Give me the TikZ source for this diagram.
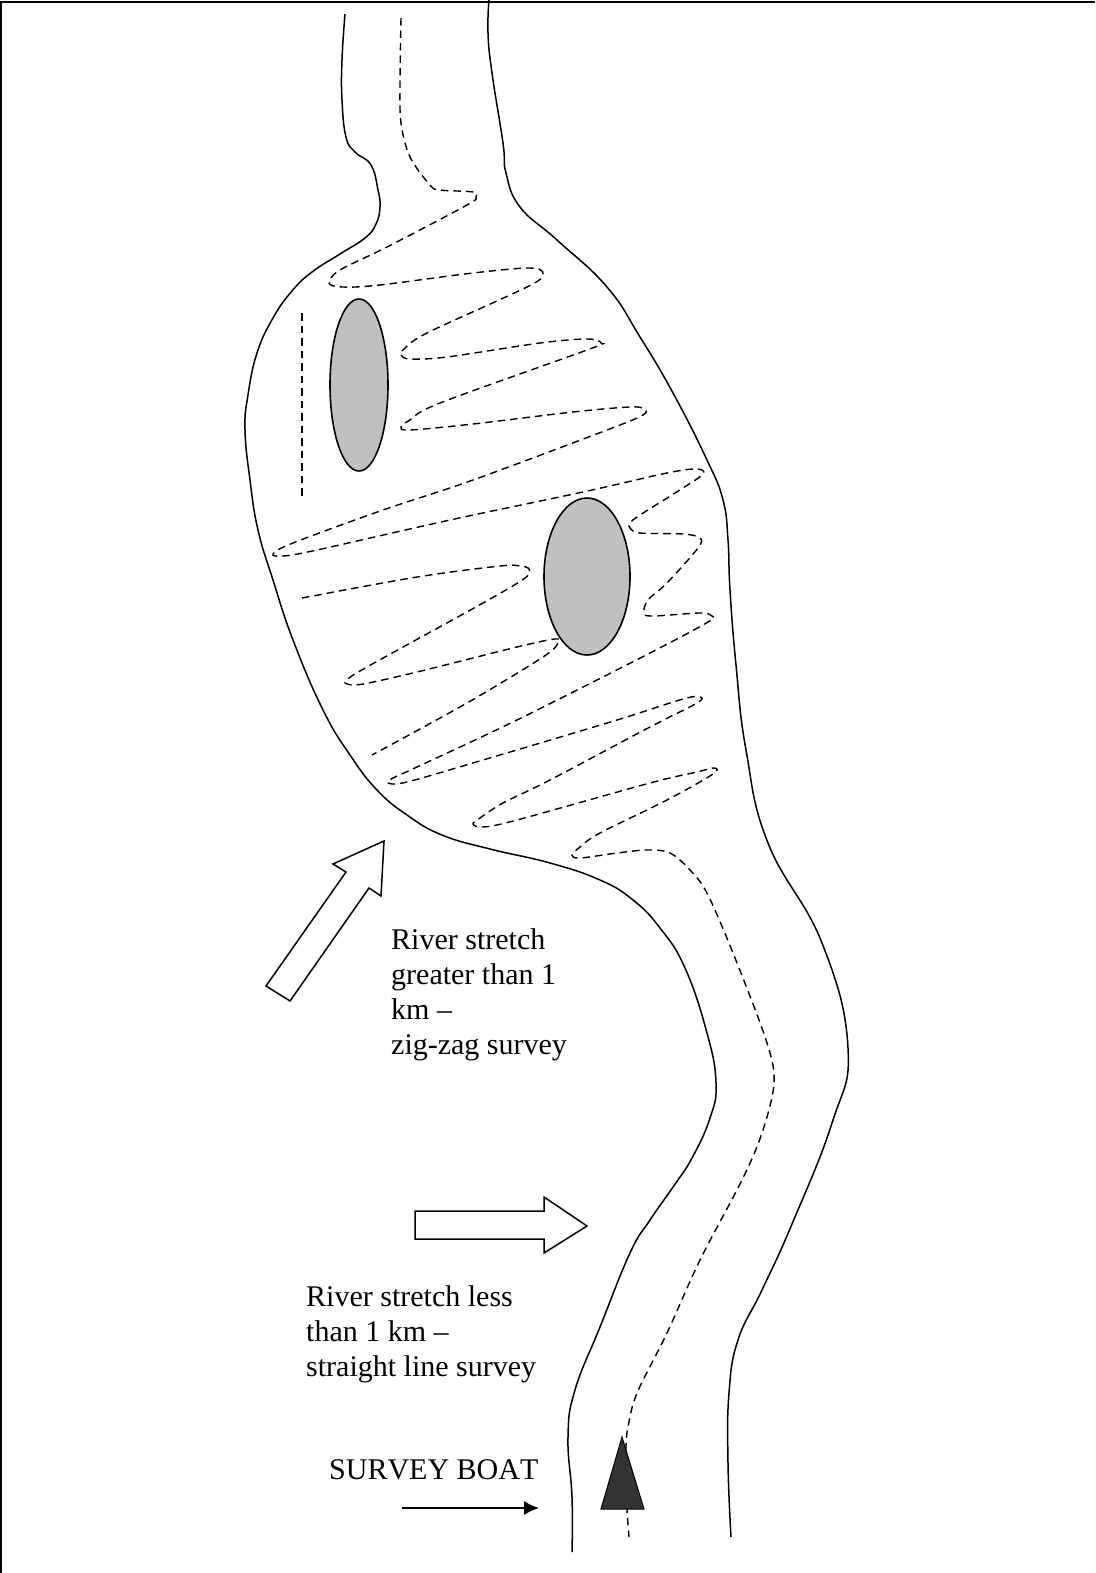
\documentclass[tikz,border=0pt]{standalone}
\usepackage{fontspec}
\setmainfont{Liberation Serif}
\usetikzlibrary{arrows.meta,shapes.geometric}
\definecolor{islandgray}{HTML}{C0C0C0}
\definecolor{boatgray}{HTML}{333333}
\tikzset{
  bank/.style={draw=black,line width=1.5pt,line join=round},
  route/.style={draw=black,line width=1.4pt,dash pattern=on 7.5pt off 5pt},
  island/.style={draw=black,line width=1.6pt,fill=islandgray,shape=ellipse,inner sep=0pt},
  hollow/.style={draw=black,line width=1.5pt,fill=white,line join=miter},
  caption/.style={anchor=north west,inner sep=0pt,align=left,font=\fontsize{30}{35}\selectfont},
}
\begin{document}
\begin{tikzpicture}[x=1pt,y=-1pt]
\useasboundingbox (0,0) rectangle (1095,1573);
\draw[line width=2.2pt] (1,1573) -- (1,2) -- (1095,2);
% left bank
\draw[bank] plot[smooth,tension=0.75] coordinates {(345,14)(342,60)(342,100)(346,137)(355,152)(371,165)(378,190)(380,207)(376,224)(365,238)(340,254)(312,272)(292,291)(273,318)(257,353)(248,395)(245,430)(250,480)(258,530)(273,580)(293,640)(323,710)(350,755)(377,790)(407,815)(442,835)(490,849)(550,863)(600,880)(633,900)(660,928)(685,968)(707,1033)(716,1083)(710,1118)(692,1158)(673,1187)(650,1220)(630,1253)(600,1327)(575,1390)(568,1437)(572,1497)(572,1552)};
% right bank
\draw[bank] plot[smooth,tension=0.75] coordinates {(489,0)(488,33)(492,73)(503,143)(506,173)(520,207)(557,240)(607,287)(640,337)(673,393)(707,460)(723,500)(728,540)(730,590)(736,665)(746,750)(768,843)(822,943)(848,1048)(832,1123)(792,1224)(762,1290)(738,1340)(729,1393)(728,1463)(731,1537)};
% main survey route
\draw[route] plot[smooth,tension=0.55] coordinates {(401,18)(400,83)(401,123)(410,157)(430,185)(440,190)(473,192)(476,197)(467,205)(387,247)(340,270)(329,283)(343,287)(380,285)(473,273)(530,268)(543,274)(527,287)(427,333)(403,350)(401,355)(410,359)(447,357)(540,343)(587,339)(601,343)(587,350)(440,403)(410,420)(401,427)(410,430)(473,424)(573,412)(630,407)(644,409)(643,415)(607,430)(473,480)(383,510)(293,543)(273,554)(283,556)(317,550)(450,520)(583,492)(667,473)(697,469)(703,474)(683,488)(640,515)(630,523)(630,528)(640,533)(683,534)(700,538)(698,548)(667,583)(648,600)(644,613)(653,616)(700,613)(712,616)(708,622)(650,653)(517,720)(417,767)(393,778)(388,783)(407,782)(483,760)(617,720)(683,699)(700,697)(697,703)(650,727)(550,780)(503,803)(480,818)(473,824)(483,827)(517,820)(650,783)(697,772)(714,768)(713,774)(667,800)(600,833)(580,847)(572,855)(580,858)(617,853)(647,850)(670,853)(690,870)(708,895)(737,963)(767,1043)(774,1083)(762,1133)(742,1180)(700,1260)(667,1333)(637,1393)(628,1427)(626,1447)(626,1480)(627,1510)(629,1537)};
% second and third route pieces
\draw[route] plot[smooth,tension=0.55] coordinates {(302,598)(417,577)(500,566)(520,566)(529,569)(525,578)(483,603)(367,667)(347,680)(347,684)(363,684)(417,672)(517,647)(555,639)(558,643)(543,657)(467,703)(372,755)};
\coordinate (dashtop) at (302,313);
\coordinate (dashbot) at (302,499);
\draw[route] (dashtop) -- (dashbot);
% islands
\node[island,minimum width=58pt,minimum height=172pt] (islandA) at (359,385) {};
\node[island,minimum width=86pt,minimum height=157pt] (islandB) at (587,576.5) {};
% hollow arrows
\draw[hollow] (384,841) -- (333,864) -- (346,872) -- (266,986) -- (290,1001) -- (369,888) -- (381,896) -- cycle;
\draw[hollow] (415,1211) -- (544,1211) -- (544,1197) -- (587,1226) -- (544,1253) -- (544,1239) -- (415,1239) -- cycle;
% boat
\draw[line width=1pt,fill=boatgray,line join=miter] (622,1437) -- (644,1509) -- (601,1509) -- cycle;
% labels
\node[caption] (lblA) at (391,928) {River stretch\\greater than 1\\km –\\zig-zag survey};
\node[caption] (lblB) at (306,1285) {River stretch less\\than 1 km –\\straight line survey};
\node[caption] (lblC) at (329,1459) {\addfontfeature{Kerning=Off}SURVEY BOAT};
\coordinate (ptrS) at (402,1508);
\coordinate (ptrE) at (539,1508);
\draw[line width=1.5pt,-{Latex[length=15pt,width=14pt]}] (ptrS) -- (ptrE);
\end{tikzpicture}
\end{document}
